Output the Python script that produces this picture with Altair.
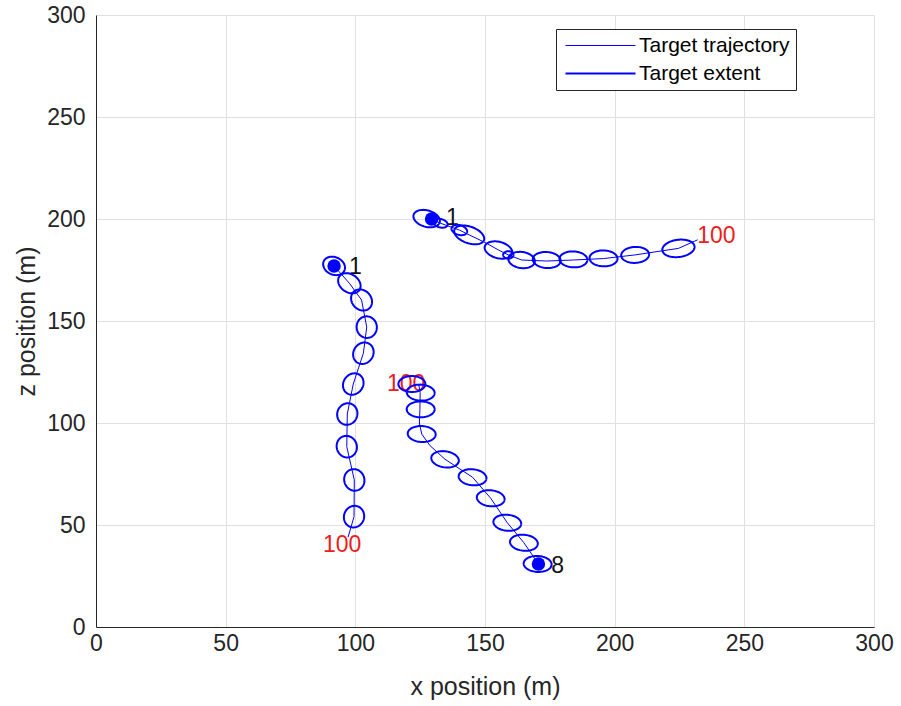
import altair as alt
import pandas as pd

BLUE = "#0000ff"
RED = "#ee1c1c"
INK = "#262626"
FONT = "Liberation Sans"

# ---- target trajectories (x, z in metres) ----
traj1_x = [91.8, 97.7, 102.4, 104.4, 103.1, 99.2, 96.9, 96.7, 99.6, 99.5, 97.2]
traj1_z = [177.0, 168.5, 160.3, 147.0, 134.2, 119.1, 104.4, 88.4, 72.1, 54.1, 44.0]

traj2_x = [170.6, 165.0, 158.6, 152.2, 145.2, 134.6, 128.8, 125.6, 124.7, 124.9, 125.0, 124.5]
traj2_z = [30.9, 41.3, 51.1, 63.1, 73.4, 82.2, 88.9, 94.6, 100.0, 106.7, 114.9, 118.5]

traj3_x = [129.4, 132.9, 140.1, 143.9, 150.0, 155.2, 159.0, 164.1, 173.8, 184.1, 195.7, 207.9, 224.6, 232.0]
traj3_z = [200.0, 197.9, 194.6, 192.2, 188.5, 184.8, 182.4, 179.9, 179.4, 179.9, 180.6, 182.4, 185.6, 189.8]

# ---- target extent ellipses: centre, semi-axes (m), orientation (deg) ----
ell_cx = [91.8, 97.7, 102.4, 104.4, 103.1, 99.2, 96.9, 96.7, 99.6, 99.5,
          170.3, 165.0, 158.6, 152.2, 145.2, 134.6, 125.6, 125.2, 125.2, 121.8,
          127.5, 132.9, 140.1, 143.9, 155.2, 159.0, 164.1, 173.8, 184.1, 195.7, 207.9, 224.6]
ell_cz = [177.0, 168.5, 160.3, 147.0, 134.2, 119.1, 104.4, 88.4, 72.1, 54.1,
          30.9, 41.3, 51.1, 63.1, 73.4, 82.2, 94.6, 106.7, 114.9, 119.1,
          200.2, 197.9, 194.6, 192.2, 184.8, 182.4, 179.9, 179.9, 180.2, 180.7, 182.4, 185.6]
ell_a = [4.8, 5.3, 5.3, 5.3, 5.3, 5.3, 5.3, 5.3, 5.3, 5.3,
         5.4, 5.4, 5.4, 5.4, 5.4, 5.4, 5.4, 5.4, 5.4, 5.2,
         5.4, 2.8, 3.2, 6.3, 5.6, 2.0, 5.2, 5.4, 5.4, 5.4, 5.4, 6.3]
ell_b = [3.9, 3.9, 3.9, 3.9, 3.9, 3.9, 3.9, 3.9, 3.9, 3.9,
         3.9, 3.9, 3.9, 3.9, 3.9, 3.9, 3.9, 3.9, 3.9, 3.9,
         3.9, 2.0, 2.3, 3.9, 3.9, 1.8, 3.9, 3.9, 3.9, 3.9, 3.9, 4.2]
ell_phi = [-55, -58, -73, -88, 79, 78, 85, -85, -85, 85,
           -5, -10, -10, -10, -10, -15, -5, 0, -5, 0,
           -28, -25, -28, -30, -25, 0, -15, -8, -5, -3, 5, 12]

# ---- start markers and step labels ----
start_x = [91.8, 129.4, 170.6]
start_z = [177.0, 200.0, 30.9]

label_x = [97.6, 135.0, 175.5, 87.5, 112.2, 231.8]
label_z = [176.5, 200.5, 30.0, 40.0, 119.1, 191.7]
label_text = ["1", "1", "8", "100", "100", "100"]
label_color = ["#111111", "#111111", "#111111", RED, RED, RED]

# ---- tables ----
rows = []
for tid, (xs, zs) in enumerate([(traj1_x, traj1_z), (traj2_x, traj2_z), (traj3_x, traj3_z)]):
    for i, (xv, zv) in enumerate(zip(xs, zs)):
        rows.append({"track": tid, "seq": i, "x": xv, "y": zv, "kind": "Target trajectory"})
traj_df = pd.DataFrame(rows)

ell_df = pd.DataFrame({
    "id": list(range(len(ell_cx))),
    "cx": ell_cx, "cy": ell_cz, "a": ell_a, "b": ell_b, "phi": ell_phi,
    "kind": "Target extent",
})
start_df = pd.DataFrame({"x": start_x, "y": start_z})
label_df = pd.DataFrame({"x": label_x, "y": label_z, "text": label_text, "c": label_color})

# ---- shared scales / encodings ----
xs = alt.Scale(domain=[0, 300], nice=False)
ys = alt.Scale(domain=[0, 300], nice=False)
tick_vals = [0, 50, 100, 150, 200, 250, 300]

x_enc = alt.X("x:Q", scale=xs, title="x position (m)",
              axis=alt.Axis(values=tick_vals, labelPadding=5, titlePadding=19))
y_enc = alt.Y("y:Q", scale=ys, title="z position (m)",
              axis=alt.Axis(values=tick_vals, labelPadding=11, titlePadding=7))

# long horizontal stroke as legend symbol (unit path scaled by sqrt(size)/2)
legend = alt.Legend(
    title=None, orient="none", legendX=460, legendY=14,
    symbolType="M-5,0L5,0", symbolSize=196, symbolStrokeColor=BLUE,
    symbolFillColor="transparent", symbolOffset=28,
    labelFont=FONT, labelFontSize=21, labelColor="#000000", labelLimit=400,
    labelOffset=28, padding=6, rowPadding=6,
    fillColor="white", strokeColor=INK, cornerRadius=0,
)
sw_enc = alt.StrokeWidth(
    "kind:O",
    scale=alt.Scale(domain=["Target trajectory", "Target extent"], range=[1, 2]),
    legend=legend,
)

labels = alt.Chart(label_df).mark_text(
    align="left", baseline="middle", font=FONT, fontSize=23
).encode(x=x_enc, y=y_enc, text="text:N", color=alt.Color("c:N", scale=None))

trajectories = alt.Chart(traj_df).mark_line(color=BLUE).encode(
    x=x_enc, y=y_enc, detail="track:N", order="seq:Q", strokeWidth=sw_enc
)

# ellipse outlines generated from the parameter table
ellipses = (
    alt.Chart(ell_df)
    .transform_calculate(t="sequence(0, 73)")
    .transform_flatten(["t"])
    .transform_calculate(ang="datum.t * 2 * PI / 72")
    .transform_calculate(rad="datum.phi * PI / 180")
    .transform_calculate(
        x="datum.cx + datum.a * cos(datum.ang) * cos(datum.rad) - datum.b * sin(datum.ang) * sin(datum.rad)"
    )
    .transform_calculate(
        y="datum.cy + datum.a * cos(datum.ang) * sin(datum.rad) + datum.b * sin(datum.ang) * cos(datum.rad)"
    )
    .mark_line(color=BLUE)
    .encode(x=x_enc, y=y_enc, detail="id:N", order="t:Q", strokeWidth=sw_enc)
)

starts = alt.Chart(start_df).mark_point(
    filled=True, shape="circle", size=180, color=BLUE, opacity=1
).encode(x=x_enc, y=y_enc)

chart = (
    alt.layer(labels, trajectories, ellipses, starts)
    .properties(
        width=778, height=612,
        autosize=alt.AutoSizeParams(type="none"),
        padding={"left": 96, "top": 15, "right": 27, "bottom": 79},
        background="white",
    )
    .configure_view(strokeWidth=0)
    .configure_legend(symbolStrokeColor=BLUE)
    .configure_axis(
        labelFont=FONT, titleFont=FONT,
        labelFontSize=23, titleFontSize=25, titleFontWeight="normal",
        labelColor=INK, titleColor=INK,
        domainColor=INK, domainWidth=1,
        gridColor="#e0e0e0", gridWidth=1,
        ticks=False, labelFlush=False, labelOverlap=False,
    )
)

chart.save("out.html", embed_options={"renderer": "svg", "actions": False})
